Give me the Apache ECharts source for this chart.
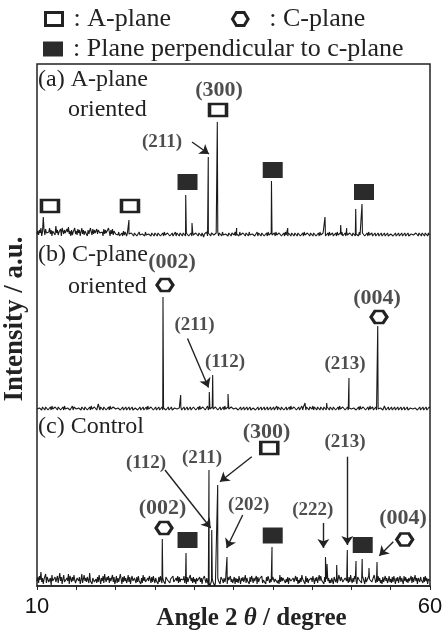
<!DOCTYPE html>
<html>
<head>
<meta charset="utf-8">
<script src="https://cdn.jsdelivr.net/npm/echarts@6/dist/echarts.min.js"></script>
<style>
html,body{margin:0;padding:0;background:#fff}
#main{width:442px;height:636px}
</style>
</head>
<body>
<div id="main"></div>
<script>
// baseline noise, one hex digit per 0.1 deg step (10..60)
var noiseA = '47385a2648395736a4827593c' + '5836492a7485396b4728365a4' + '7395826a4837592847a639485' +
  '3948a57362948573a62849375' + '4253624352736425346253425' + '3524263524352635243625342' +
  '5342536243526342536243524' + '3625342536253425362435263' + '4253625342531423625342536' +
  '3425362534263524362534253' + '5362435263425362534263524' + '3524362534253624352634253' +
  '4352634253624352634253625' + '3625342536243526342536253' + '4253624352634253624352634' +
  '3524352634253624352634253' + '4253624352634253624352634' + '3524352435243524352435243' +
  '4352435243524352435243524' + '3425342534253425342534253' + '4';
var noiseB = '3524362534253624352634253' + '4253524352635243524362534' + '3524362534253524352634253' +
  '4253625342536243526342536' + '3524352435243524352435243' + '4352435243524352634253524' +
  '3524352435243524352435243' + '4253524352435243524352435' + '3524352634253524362534253' +
  '4253624352435263425342536' + '3524352435243524352435243' + '4352435243524352435243524' +
  '3524362534253524352435263' + '4253624352436253425362534' + '3625342536253425362534253' +
  '4253624352634253524352435' + '3524352435263425352435243' + '4352435243524352435243524' +
  '3524352435243524352435243' + '4253524352435243524352435' + '4';
var noiseC = '593a6e48275c39a4681b57394' + '6a38d5927b46385c2a7495b63' + '48a5926c37b5849a3d5728a46' +
  '7394b6285a3c7496a3857b492' + '5a3846c7294a5836b4927a538' + '6394a57283b5946285a7394a6' +
  '3857294a6385729b6483759a4' + '6285a3947586a3829476b5839' + '4728563948275a63841302574' +
  '2031485729a6384752968a473' + '5928473a6285947b3856294a7' + '3856a294758a3647295a83746' +
  '9a4758362b4958a6374928a56' + '3847a5926384b7592a4836758' + '4a6285937b5a6482947a58363' +
  '8529a4736b859a4628a57394b' + '6384a7529b6473a8529463a75' + '8462b9374a58362947a5836a4' +
  '7394a6285937a4862a5947385' + '6a3947b5828a4967394a58276' + '5';

// peaks: [2theta, intensity]
var peaksA = [[10.8,21],[21.7,18],[28.92,43],[29.72,15],[31.79,81],[32.94,116],[35.4,10],[39.83,57],
  [41.9,10],[46.64,21],[48.64,13],[49.4,10],[50.55,29],[51.35,34]];
var peaksB = [[17.8,8],[26.03,115],[28.28,17],[31.92,20],[32.35,37],[34.3,18],[44.1,9],[46.86,9],
  [49.69,34],[52.4,6],[53.35,86],[54.2,6]];
var peaksC = [[25.94,47],[28.96,33],[31.88,116],[32.23,56],[32.99,101],[34.17,29],[39.9,39],[46.7,29],
  [46.9,22],[48.13,21],[49.48,36],[50.59,25],[51.37,27],[52.24,18],[53.26,24]];

// phase markers: [type, 2theta, height]  A = A-plane, C = C-plane, P = perpendicular to c-plane
var markA = [['A',11.65,32],['A',21.83,32],['P',29.15,56],['A',33.03,128],['P',39.99,68],['P',51.6,46]];
var markB = [['C',26.28,127],['C',53.51,95]];
var markC = [['C',26.16,58],['P',29.15,46],['A',39.55,138],['P',39.99,50.5],['P',51.44,41],['C',56.78,46.5]];

// hkl labels: [text, 2theta, height, big?]
var labA = [['(300)',33.16,148,1],['(211)',25.9,96,0]];
var labB = [['(002)',27.18,150,1],['(004)',53.26,114,1],['(211)',30.04,87,0],['(112)',33.92,50,0],['(213)',49.19,48,0]];
var labC = [['(002)',25.97,78,1],['(112)',23.87,123,0],['(211)',30.99,128,0],['(300)',39.2,154,1],
  ['(202)',36.93,81,0],['(222)',45.08,76,0],['(213)',49.19,144,0],['(004)',56.56,67.7,1]];

// arrows: [x1, y1, x2, y2]
var arrA = [[29.72,96,31.88,84]];
var arrB = [[29.15,73.5,31.82,24.5]];
var arrC = [[26.28,116,32.1,58],[37.32,129.3,33.28,104.3],[36.17,71,34.13,38],[46.43,63,46.43,38],
  [49.48,129.3,49.48,41],[55.33,44.3,53.55,30.3]];

var INK = '#222';
var SERIF = 'Liberation Serif';
var hexPath = 'path://M0,5L3,0L9,0L12,5L9,10L3,10Z';
var legendName = {A: ': A-plane', C: ': C-plane', P: ': Plane perpendicular to c-plane'};
var markStyle = {
  A: {symbol: 'rect', symbolSize: [17, 12], itemStyle: {color: '#fff', borderColor: INK, borderWidth: 3, opacity: 1}},
  C: {symbol: hexPath, symbolSize: [16, 12], itemStyle: {color: '#fff', borderColor: INK, borderWidth: 3, opacity: 1}},
  P: {symbol: 'rect', symbolSize: [20, 16], itemStyle: {color: '#2b2b2b', opacity: 1}}
};

function buildLine(str, peaks) {
  var step = 50 / (str.length - 1);
  var pts = [];
  for (var i = 0; i < str.length; i++) pts.push([10 + i * step, parseInt(str[i], 16)]);
  peaks.forEach(function (p) { pts.push([p[0], p[1]]); });
  pts.sort(function (a, b) { return a[0] - b[0]; });
  return pts;
}

var panels = [
  {noise: noiseA, peaks: peaksA, marks: markA, labels: labA, arrows: arrA},
  {noise: noiseB, peaks: peaksB, marks: markB, labels: labB, arrows: arrB},
  {noise: noiseC, peaks: peaksC, marks: markC, labels: labC, arrows: arrC}
];

var grids = [], xAxes = [], yAxes = [], series = [];
panels.forEach(function (p, g) {
  grids.push({left: 37, right: 12, top: 64 + g * 174, height: 174, outerBoundsMode: 'none', containLabel: false});
  xAxes.push({type: 'value', gridIndex: g, min: 10, max: 60, interval: 5, show: g === 2,
    axisLine: {lineStyle: {color: INK, width: 1.5}},
    axisTick: {length: 4, lineStyle: {color: INK}},
    splitLine: {show: false},
    axisLabel: {showMinLabel: true, showMaxLabel: true, margin: 10, color: '#111', fontSize: 22,
      fontFamily: 'Liberation Sans',
      formatter: function (v) { return (v === 10 || v === 60) ? String(v) : ''; }},
    name: g === 2 ? '{b|Angle 2 }{i|θ}{b| / degree}' : '',
    nameLocation: 'middle', nameGap: 20, nameMoveOverlap: false,
    nameTextStyle: {padding: [0, 0, 0, 36], rich: {
      b: {fontFamily: SERIF, fontWeight: 'bold', fontSize: 25, color: INK},
      i: {fontFamily: SERIF, fontWeight: 'bold', fontStyle: 'italic', fontSize: 25, color: INK}
    }}
  });
  yAxes.push({type: 'value', gridIndex: g, min: 0, max: 174, show: false});

  series.push({
    type: 'line', xAxisIndex: g, yAxisIndex: g, data: buildLine(p.noise, p.peaks),
    showSymbol: false, lineStyle: {color: '#1a1a1a', width: 1.1}, silent: true, z: 2,
    markLine: {
      silent: true, symbol: ['none', 'arrow'], symbolSize: 9, animation: false,
      label: {show: false},
      lineStyle: {color: INK, width: 1.4, type: 'solid'},
      emphasis: {disabled: true},
      data: p.arrows.map(function (a) { return [{coord: [a[0], a[1]]}, {coord: [a[2], a[3]]}]; })
    }
  });

  ['A', 'C', 'P'].forEach(function (t) {
    var pts = p.marks.filter(function (m) { return m[0] === t; });
    if (!pts.length) return;
    var st = markStyle[t];
    series.push({
      type: 'scatter', name: legendName[t], xAxisIndex: g, yAxisIndex: g, z: 4,
      symbol: st.symbol, symbolSize: st.symbolSize, itemStyle: st.itemStyle, silent: true,
      data: pts.map(function (m) { return [m[1], m[2]]; })
    });
  });

  series.push({
    type: 'scatter', xAxisIndex: g, yAxisIndex: g, z: 5, silent: true,
    symbolSize: 0.1, itemStyle: {color: 'transparent'},
    label: {show: true, position: 'inside', formatter: '{b}', color: INK,
      fontFamily: SERIF, fontWeight: 'bold'},
    data: p.labels.map(function (l) {
      return {name: l[0], value: [l[1], l[2]], label: {fontSize: l[3] ? 22 : 19}};
    })
  });
});

// outer frame + y title
grids.push({left: 37, right: 12, top: 64, bottom: 50, show: true, borderColor: INK, borderWidth: 1.5,
  backgroundColor: 'transparent', outerBoundsMode: 'none', containLabel: false});
xAxes.push({type: 'value', gridIndex: 3, min: 10, max: 60, show: false});
yAxes.push({type: 'value', gridIndex: 3, min: 0, max: 1,
  axisLine: {show: false}, axisTick: {show: false}, axisLabel: {show: false}, splitLine: {show: false},
  name: 'Intensity / a.u.', nameLocation: 'middle', nameGap: 8, nameMoveOverlap: false,
  nameTextStyle: {fontFamily: SERIF, fontWeight: 'bold', fontSize: 27, color: INK, padding: [0, 0, 0, 12]}});

function legendFor(t, left, top, w, h, gap) {
  var st = markStyle[t];
  return {
    left: left, top: top, itemWidth: w, itemHeight: h, selectedMode: false, padding: 0,
    textStyle: {fontFamily: SERIF, fontSize: 26, color: INK, padding: [0, 0, 0, gap]},
    data: [{name: legendName[t], icon: st.symbol, itemStyle: st.itemStyle}]
  };
}

var panelText = [
  ['(a) A-plane', 38, 68], ['oriented', 68, 98],
  ['(b) C-plane', 38, 243], ['oriented', 68, 275],
  ['(c) Control', 38, 415]
];

var chart = echarts.init(document.getElementById('main'), null, {renderer: 'canvas'});
chart.setOption({
  animation: false,
  backgroundColor: '#fff',
  grid: grids,
  xAxis: xAxes,
  yAxis: yAxes,
  legend: [
    legendFor('A', 44, 6, 17, 13, 6),
    legendFor('C', 231, 6, 16, 13, 16),
    legendFor('P', 43, 36, 20, 15, 5)
  ],
  graphic: panelText.map(function (t) {
    return {type: 'text', left: t[1], top: t[2], silent: true,
      style: {text: t[0], fill: INK, font: '24px "Liberation Serif"'}};
  }),
  series: series
});
</script>
</body>
</html>
